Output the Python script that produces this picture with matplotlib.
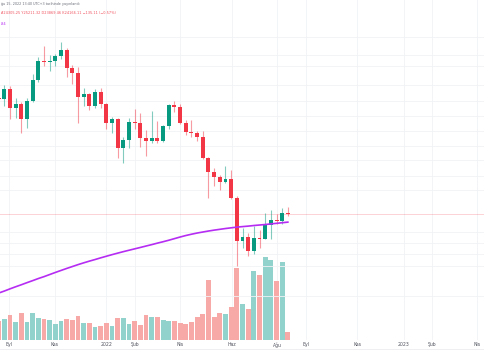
import matplotlib
matplotlib.use("Agg")
import matplotlib.pyplot as plt
from matplotlib.lines import Line2D

# weekly BTC candles, Aug 23 2021 .. Aug 15 2022
opens = [49050, 48850, 51750, 46050, 47300, 43150, 48200, 54700, 61500, 60900,
         61300, 63300, 65500, 58700, 57200, 49400, 50100, 46700, 50800, 47300,
         42000, 43100, 36200, 37900, 42400, 42100, 38300, 37700, 38400, 37800,
         41300, 46900, 46400, 42200, 39900, 39500, 38600, 33900, 31300, 30300,
         29400, 29900, 26600, 20550, 21050, 19300, 20850, 20800, 22600, 23300,
         23150, 24305.25]
highs = [50500, 52950, 52900, 48900, 47800, 48900, 56600, 62800, 67300, 63700,
         64100, 69000, 66400, 60000, 59300, 52000, 50600, 51900, 52000, 47600,
         43600, 43500, 38700, 43500, 45800, 44800, 40300, 45400, 42600, 41700,
         47200, 48200, 47400, 42900, 42800, 40100, 40000, 34200, 31900, 30600,
         32400, 31600, 26900, 22200, 21500, 22500, 21900, 24300, 24700, 24200,
         25000, 25211.32]
lows = [46400, 46600, 43000, 43400, 39600, 40800, 47700, 54100, 59600, 57900,
        59600, 62300, 55800, 53300, 42000, 46800, 45500, 46000, 46000, 40500,
        39600, 34100, 33000, 36200, 40700, 36400, 34400, 37300, 37200, 37600,
        40500, 45000, 41800, 39200, 38600, 37700, 33700, 26700, 28700, 28000,
        29200, 26500, 17600, 19600, 18700, 18900, 19600, 20750, 20800, 22700,
        22700, 23869.46]
closes = [48850, 51750, 46050, 47300, 43150, 48200, 54700, 61500, 60900, 61300,
          63300, 65500, 58700, 57200, 49400, 50100, 46700, 50800, 47300, 42000,
          43100, 36200, 37900, 42400, 42100, 38300, 37700, 38400, 37800, 41300,
          46900, 46400, 42200, 39900, 39500, 38600, 33900, 31300, 30300, 29400,
          29900, 26600, 20550, 21050, 19300, 20850, 20800, 22600, 23300, 23150,
          24301.22, 24166.11]
volumes = [19.0, 20.7, 25.0, 18.3, 27.3, 18.3, 26.7, 22.3, 21.0, 19.7,
           16.3, 18.7, 21.0, 20.0, 24.3, 17.3, 17.3, 13.0, 14.0, 16.7,
           14.3, 22.0, 22.0, 16.3, 19.0, 15.0, 25.5, 23.3, 23.3, 20.0,
           19.3, 19.3, 16.7, 16.0, 17.7, 22.7, 26.0, 59.7, 23.3, 26.7,
           26.0, 32.7, 71.7, 35.7, 31.3, 68.7, 65.0, 82.7, 79.7, 59.0,
           77.7, 8.3]
ma200 = [14926, 15110, 15314, 15511, 15702, 15905, 16101, 16309, 16498, 16710,
         16925, 17133, 17343, 17546, 17752, 17945, 18133, 18311, 18501, 18683,
         18865, 19040, 19214, 19379, 19544, 19711, 19883, 20053, 20237, 20410,
         20596, 20799, 21004, 21196, 21364, 21521, 21653, 21785, 21905, 22012,
         22120, 22215, 22309, 22379, 22447, 22529, 22597, 22666, 22749, 22833,
         22916, 23000]

tick_pos = [1.9, 9.9, 19.0, 24.0, 32.0, 41.1, 49.1, 54.2, 63.2, 71.4, 76.4, 84.4]
tick_labels = ["Eyl", "Kas", "2022", "Şub", "Nis", "Haz", "Ağu",
               "Eyl", "Kas", "2023", "Şub", "Nis"]
grid_levels = [14700, 17600, 18900, 20200, 21700, 28000, 30500, 33500, 36500,
               40000, 44000, 48000, 53000, 59600, 63700, 71200]

UP, DOWN = "#089981", "#f23645"
UP_VOL, DOWN_VOL = "#92d2cc", "#f7a9a7"

W, H = 485, 360
pane_bottom = 340
fig = plt.figure(figsize=(W / 100, H / 100), dpi=100)
rect = [0, 1 - pane_bottom / H, 1, pane_bottom / H]

# volume pane underneath (also carries the grid)
axv = fig.add_axes(rect)
x = list(range(len(opens)))
vcol = [UP_VOL if c >= o else DOWN_VOL for o, c in zip(opens, closes)]
axv.bar(x, volumes, width=0.84, color=vcol, zorder=2)
axv.set_ylim(0, pane_bottom)
axv.set_xlim(0.229, 85.77)
axv.set_xticks(tick_pos)
axv.set_xticklabels(tick_labels)
axv.tick_params(axis="x", length=0, pad=1.6, labelsize=3.3, colors="#50535e")
axv.set_yticks([])
axv.grid(axis="x", color="#f1f2f5", lw=0.6, zorder=0)
for s in axv.spines.values():
    s.set_visible(False)

# price pane on top
ax = fig.add_axes(rect)
ax.patch.set_visible(False)
ax.set_yscale("log")
ax.set_ylim(11210, 89100)
ax.set_xlim(0.229, 85.77)
ax.set_xticks([])
ax.set_yticks(grid_levels)
ax.minorticks_off()
ax.set_yticks([], minor=True)
ax.tick_params(axis="y", length=0, labelleft=False)
ax.grid(axis="y", color="#f1f2f5", lw=0.6, zorder=0)
for s in ax.spines.values():
    s.set_visible(False)

for i in x:
    o, h, l, c = opens[i], highs[i], lows[i], closes[i]
    col = UP if c >= o else DOWN
    ax.vlines(i, l, h, color=col, alpha=0.5, lw=0.8, zorder=3)
    lo, hi = min(o, c), max(o, c)
    if hi / lo < 1.004:
        hi = lo * 1.004
    ax.bar(i, hi - lo, bottom=lo, width=0.7, color=col, lw=0, zorder=4)

ax.plot(x, ma200, color="#b52cf2", lw=1.2, zorder=5)
ax.axhline(closes[-1], color=DOWN, alpha=0.22, lw=0.7, zorder=2)

# header texts
fig.text(1 / W, 1 - 4.5 / H, "ğu 15, 2022 13:40 UTC+3 tarihinde yayınlandı",
         fontsize=2.4, color="#6a6d78", va="center", ha="left")
fig.text(1 / W, 1 - 12.5 / H,
         "A24305.25 Y25211.32 D23869.46 K24166.11 −135.11 (−0.57%)",
         fontsize=2.5, color="#f0525f", va="center", ha="left")
fig.text(1 / W, 1 - 24 / H, ".84", fontsize=2.6, color="#b52cf2",
         va="center", ha="left")

fig.add_artist(Line2D([0, 1], [1 - 348.5 / H, 1 - 348.5 / H],
                      color="#ececef", lw=0.6))

fig.savefig("out.png", dpi=100)
